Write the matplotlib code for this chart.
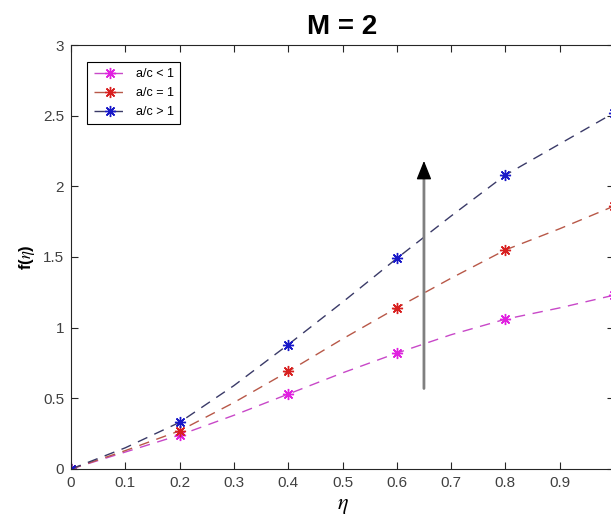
# f(eta) profiles for M = 2, three a/c cases

import numpy as np
import matplotlib.pyplot as plt

plt.rcParams['font.family'] = ['Liberation Sans', 'DejaVu Sans']
plt.rcParams['mathtext.fontset'] = 'stix'

# line read every 0.1, markers every 0.2
eta = [0, 0.1, 0.2, 0.3, 0.4, 0.5, 0.6, 0.7, 0.8, 0.9, 1.0]
f_less = [0, 0.12, 0.24, 0.38, 0.53, 0.68, 0.82, 0.95, 1.06, 1.14, 1.23]
f_equal = [0, 0.13, 0.27, 0.47, 0.69, 0.92, 1.14, 1.35, 1.55, 1.70, 1.86]
f_greater = [0, 0.15, 0.33, 0.59, 0.88, 1.18, 1.49, 1.79, 2.08, 2.30, 2.52]
labels = ['a/c < 1', 'a/c = 1', 'a/c > 1']

line_colors = ['#c848c8', '#b85848', '#3a3a68']
mark_colors = ['#e020e0', '#d82020', '#1818c8']

fig = plt.figure(figsize=(6.11, 5.28), dpi=100)
ax = fig.add_axes([71/611, 59/528, 543/611, 424/528])

for f, lab, lc, mc in zip([f_less, f_equal, f_greater], labels, line_colors, mark_colors):
    ax.plot(eta, f, linestyle=(0, (7.5, 5.5)), color=lc, lw=1.0,
            marker=(8, 2, 0), markersize=8, markevery=2,
            markeredgecolor=mc, markeredgewidth=1.0, label=lab)

# arrow showing increase of a/c
ax.annotate('', xy=(0.65, 2.12), xytext=(0.65, 0.55),
            arrowprops=dict(arrowstyle='-', color='#808080', lw=2))
ax.annotate('', xy=(0.65, 2.2), xytext=(0.65, 2.08),
            arrowprops=dict(arrowstyle='-|>,head_length=0.5,head_width=0.2',
                            color='black', lw=1, mutation_scale=23))

ax.set_xlim(0, 1)
ax.set_ylim(0, 3)
ax.set_xticks(np.arange(0, 1.01, 0.1))
ax.set_xticklabels(['0', '0.1', '0.2', '0.3', '0.4', '0.5', '0.6', '0.7', '0.8', '0.9', '1'])
ax.set_yticks(np.arange(0, 3.01, 0.5))
ax.set_yticklabels(['0', '0.5', '1', '1.5', '2', '2.5', '3'])
ax.tick_params(direction='in', length=5, width=0.8, top=True, right=True,
               labelsize=11, colors='#262626', labelcolor='#404040', pad=5)
for s in ax.spines.values():
    s.set_color('#262626')
    s.set_linewidth(0.8)

ax.set_title('M = 2', fontsize=20, fontweight='bold', pad=8)
ax.set_xlabel(r'$\eta$', fontsize=16)
ax.set_ylabel(r'f($\eta$)', fontsize=12, fontweight='bold')

leg = ax.legend(loc='upper left', bbox_to_anchor=(0.03, 0.96), fontsize=9,
                handlelength=2.6, labelspacing=0.55, borderpad=0.5,
                fancybox=False, framealpha=1, borderaxespad=0)
leg.get_frame().set_edgecolor('black')
leg.get_frame().set_linewidth(0.8)

plt.savefig('out.png', dpi=100)
